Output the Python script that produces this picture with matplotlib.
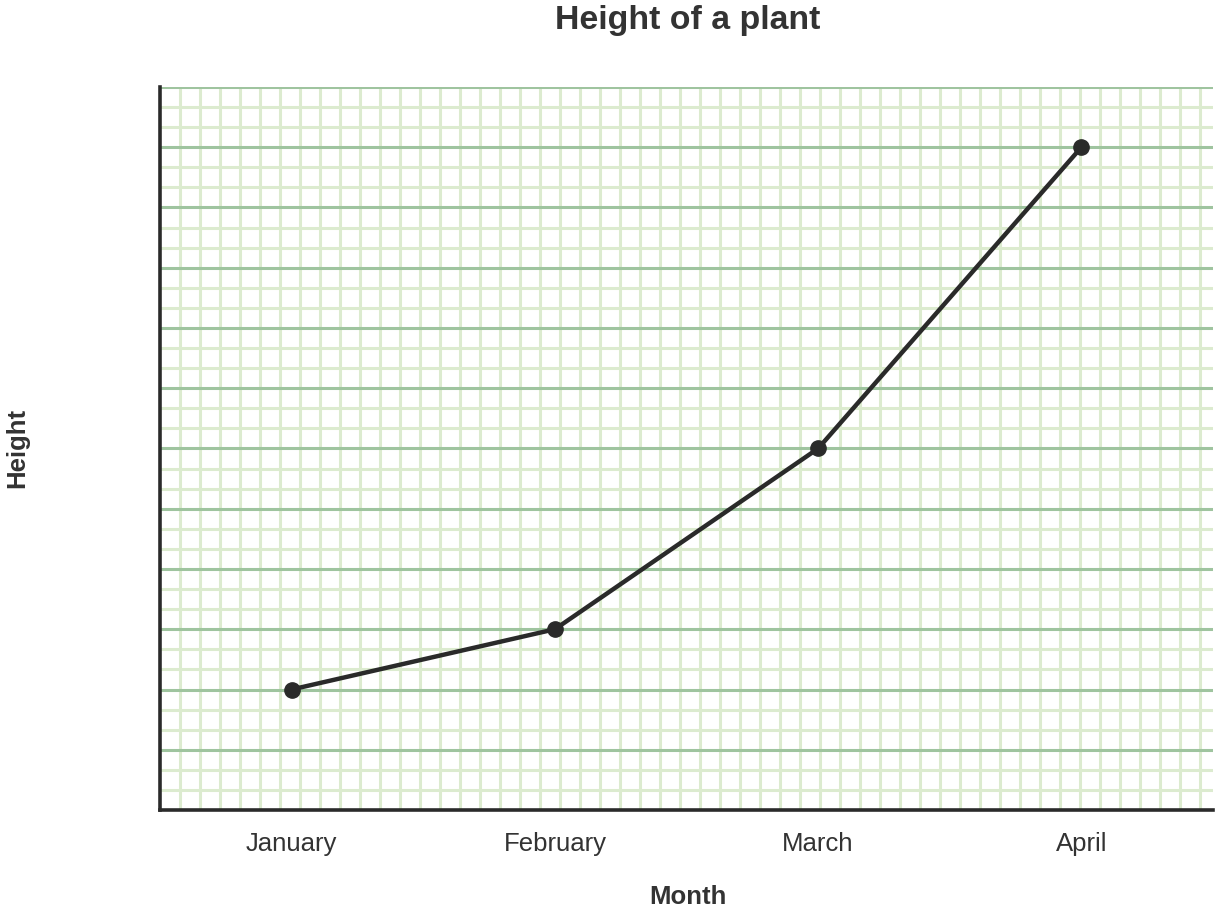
import numpy as np
import matplotlib.pyplot as plt

months = ['January', 'February', 'March', 'April']
heights = [2, 3, 6, 11]

plt.rcParams['font.family'] = ['Liberation Sans', 'DejaVu Sans']

fig = plt.figure(figsize=(12.2, 9.13), dpi=100)
ax = fig.add_axes([160/1220, 1-810/913, 1053/1220, 723/913])

x = np.arange(len(months))
ax.set_xlim(-0.5, len(months) - 0.5)
ax.set_ylim(0, 12)

# graph paper grid
step = 20 / 263.25
for xv in np.arange(-0.5 + step, len(months) - 0.5, step):
    ax.axvline(xv, color='#dcebcf', lw=2.2, zorder=0)
for yv in np.arange(1/3, 12.01, 1/3):
    if abs(yv - round(yv)) > 1e-6:
        ax.axhline(yv, color='#dcebcf', lw=2.2, zorder=0)
for yv in range(1, 13):
    ax.axhline(yv, color='#9fc49f', lw=2.2, zorder=1)

ax.plot(x, heights, color='#2a2a2a', lw=3.2, marker='o', markersize=11, zorder=3, clip_on=False)

for s in ['top', 'right']:
    ax.spines[s].set_visible(False)
for s in ['left', 'bottom']:
    ax.spines[s].set_color('#2a2a2a')
    ax.spines[s].set_linewidth(2.6)

ax.set_xticks(x)
ax.set_xticklabels(months, fontsize=18.5, color='#333333')
ax.set_yticks([])
ax.tick_params(axis='x', length=0, pad=16)

fig.text(688/1220, 1-897/913, 'Month', ha='center', va='center', fontsize=18.5, fontweight='bold', color='#333333')
fig.text(17/1220, 1-448/913, 'Height', ha='center', va='center', rotation=90, fontsize=18.5, fontweight='bold', color='#333333')
fig.text(688/1220, 1-20/913, 'Height of a plant', ha='center', va='center', fontsize=24.4, fontweight='bold', color='#333333')

fig.savefig('out.png', dpi=100)
